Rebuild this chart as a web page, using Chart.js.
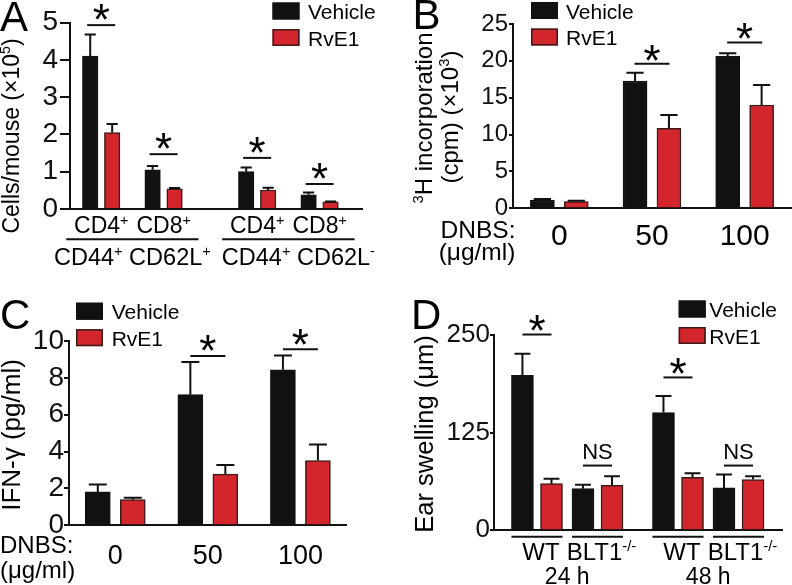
<!DOCTYPE html>
<html>
<head>
<meta charset="utf-8">
<script src="https://cdn.jsdelivr.net/npm/chart.js@4.4.1/dist/chart.umd.min.js"></script>
<style>
  html, body { margin: 0; padding: 0; background: #fff; }
  #wrap { position: relative; width: 792px; height: 585px; overflow: hidden; }
  canvas { position: absolute; left: 0; top: 0; }
</style>
</head>
<body>
<div id="wrap">
  <canvas id="panelA" width="792" height="585"></canvas>
  <canvas id="panelB" width="792" height="585"></canvas>
  <canvas id="panelC" width="792" height="585"></canvas>
  <canvas id="panelD" width="792" height="585"></canvas>
</div>
<script>
// ---- data ----
const seriesNames = ['Vehicle', 'RvE1'];
const doseCaption = ['DNBS:', '(μg/ml)'];

// A: memory T cells per mouse (x10^5)
const cellsA = ['CD4^{+}', 'CD8^{+}', 'CD4^{+}', 'CD8^{+}'];
const subsetsA = ['CD44^{+} CD62L^{+}', 'CD44^{+} CD62L^{-}'];
const vehicleA = [4.1, 1.05, 1.0, 0.38];
const vehicleErrA = [0.58, 0.10, 0.11, 0.06];
const rve1A = [2.05, 0.54, 0.51, 0.19];
const rve1ErrA = [0.23, 0.02, 0.06, 0.01];
const sigA = ['*', '*', '*', '*'];
const sigLevelA = [4.93, 1.47, 1.37, 0.67];
const ticksA = [0, 1, 2, 3, 4, 5];

// B: 3H incorporation (cpm x10^3)
const doseB = ['0', '50', '100'];
const vehicleB = [1.13, 17.27, 20.66];
const vehicleErrB = [0.14, 1.13, 0.36];
const rve1B = [0.90, 10.85, 14.01];
const rve1ErrB = [0.14, 1.81, 2.72];
const sigB = ['', '*', '*'];
const sigLevelB = [null, 19.6, 22.5];
const ticksB = [0, 5, 10, 15, 20, 25];

// C: IFN-gamma (pg/ml)
const doseC = ['0', '50', '100'];
const vehicleC = [1.81, 7.09, 8.44];
const vehicleErrC = [0.40, 1.77, 0.78];
const rve1C = [1.39, 2.78, 3.51];
const rve1ErrC = [0.11, 0.49, 0.88];
const sigC = ['', '*', '*'];
const sigLevelC = [null, 9.19, 9.55];
const ticksC = [0, 2, 4, 6, 8, 10];

// D: ear swelling (um)
const genotypeD = ['WT', 'BLT1^{-/-}', 'WT', 'BLT1^{-/-}'];
const timeD = ['24 h', '48 h'];
const vehicleD = [198.7, 53.4, 150.9, 54.3];
const vehicleErrD = [27.8, 5.1, 21.3, 17.1];
const rve1D = [59.8, 57.7, 67.9, 65.0];
const rve1ErrD = [6.4, 11.5, 5.2, 4.2];
const sigD = ['*', 'NS', '*', 'NS'];
const sigLevelD = [251, 83, 196, 83];
const ticksD = [0, 125, 250];

// ---- styling ----
const FAMILY = 'Arial, "Liberation Sans", Helvetica, sans-serif';
const NARROW = '"Liberation Sans Narrow", "Arial Narrow", ' + FAMILY;
const INK = '#111111';
const RED = '#d2262c';
const RED_EDGE = '#3a1a1a';
const W = 792, H = 585;

function font(size, fam) {
  return size + 'px ' + (fam || FAMILY);
}

// "CD4^{+}" -> plain text with superscript pieces
function richParts(str) {
  const parts = [];
  const re = /\^\{([^}]*)\}/g;
  let last = 0, m;
  while ((m = re.exec(str))) {
    if (m.index > last) parts.push({ t: str.slice(last, m.index), sup: false });
    parts.push({ t: m[1], sup: true });
    last = re.lastIndex;
  }
  if (last < str.length) parts.push({ t: str.slice(last), sup: false });
  return parts;
}

function drawRich(ctx, str, x, y, size, align) {
  const parts = richParts(str);
  const fonts = parts.map(p => font(p.sup ? size * 0.62 : size));
  const widths = parts.map((p, i) => { ctx.font = fonts[i]; return ctx.measureText(p.t).width; });
  const total = widths.reduce((a, b) => a + b, 0);
  let cx = align === 'center' ? x - total / 2 : (align === 'right' ? x - total : x);
  ctx.textAlign = 'left';
  ctx.textBaseline = 'alphabetic';
  parts.forEach((p, i) => {
    ctx.font = fonts[i];
    ctx.fillText(p.t, cx, p.sup ? y - size * 0.38 : y);
    cx += widths[i];
  });
}

function drawRotated(ctx, str, x, y, size) {
  ctx.save();
  ctx.translate(x, y);
  ctx.rotate(-Math.PI / 2);
  drawRich(ctx, str, 0, 0, size, 'center');
  ctx.restore();
}

function drawGlyphCentered(ctx, text, x, cy, size) {
  ctx.font = font(size);
  const m = ctx.measureText(text);
  ctx.textAlign = 'center';
  ctx.textBaseline = 'alphabetic';
  ctx.fillText(text, x, cy + (m.actualBoundingBoxAscent - m.actualBoundingBoxDescent) / 2);
}

function hline(ctx, x1, x2, y) {
  ctx.lineWidth = 2;
  ctx.strokeStyle = INK;
  ctx.beginPath();
  ctx.moveTo(x1, y);
  ctx.lineTo(x2, y);
  ctx.stroke();
}

function pos(p, i) {
  return i + (p.gapAfter != null && i >= p.gapAfter ? p.gap : 0);
}

// ---- panel layouts ----
const panels = [
  {
    id: 'panelA', letter: 'A', letterAt: [0, 31],
    area: { left: 70, top: 22.5, right: 362, bottom: 209 },
    xRange: [-0.5, 4.18], gapAfter: 2, gap: 0.5,
    barOffset: 0.176, barWidth: 15.5, sigHalf: 14, starGap: 13,
    ticks: ticksA, tickFont: 28, tickFamily: NARROW, tickLength: 10, tickPad: 2,
    vehicle: vehicleA, vehicleErr: vehicleErrA, rve1: rve1A, rve1Err: rve1ErrA,
    sig: sigA, sigLevel: sigLevelA,
    legend: { x: 272.5, y: 2.5, textX: 308 },
    titles: [{ text: 'Cells/mouse (×10^{5})', x: 19, y: 136, size: 23 }],
    labels(ctx, cx) {
      cellsA.forEach((c, i) => drawRich(ctx, c, cx(i), 233.3, 23, 'center'));
      const nudge = [0, 10];
      subsetsA.forEach((s, k) => {
        const a = cx(2 * k), b = cx(2 * k + 1);
        hline(ctx, a - 35, b + 35, 239.3);
        drawRich(ctx, s, (a + b) / 2 + nudge[k], 265, 23.5, 'center');
      });
    }
  },
  {
    id: 'panelB', letter: 'B', letterAt: [412.5, 29],
    area: { left: 513, top: 24, right: 791, bottom: 208.3 },
    xRange: [-0.5, 2.5],
    barOffset: 0.183, barWidth: 24, sigHalf: 17.5, starGap: 11,
    ticks: ticksB, tickFont: 24, tickLength: 4, tickPad: 1,
    vehicle: vehicleB, vehicleErr: vehicleErrB, rve1: rve1B, rve1Err: rve1ErrB,
    sig: sigB, sigLevel: sigLevelB,
    legend: { x: 531, y: 2, textX: 566 },
    titles: [
      { text: '^{3}H incorporation', x: 432, y: 118, size: 24 },
      { text: '(cpm) (×10^{3})', x: 458, y: 117, size: 24 }
    ],
    labels(ctx, cx) {
      doseB.forEach((d, i) => drawRich(ctx, d, cx(i), 245, 30, 'center'));
      drawRich(ctx, doseCaption[0], 478, 238.3, 24.5, 'center');
      drawRich(ctx, doseCaption[1], 477, 260, 24.5, 'center');
    }
  },
  {
    id: 'panelC', letter: 'C', letterAt: [0, 329],
    area: { left: 69, top: 341, right: 346.7, bottom: 525.3 },
    xRange: [-0.5, 2.5],
    barOffset: 0.189, barWidth: 25, sigHalf: 17.5, starGap: 12.5,
    ticks: ticksC, tickFont: 28, tickLength: 5, tickPad: 0,
    vehicle: vehicleC, vehicleErr: vehicleErrC, rve1: rve1C, rve1Err: rve1ErrC,
    sig: sigC, sigLevel: sigLevelC,
    legend: { x: 76, y: 302.7, textX: 111.7 },
    titles: [{ text: 'IFN-γ (pg/ml)', x: 20, y: 435, size: 26 }],
    labels(ctx, cx) {
      doseC.forEach((d, i) => drawRich(ctx, d, cx(i), 563.7, 27, 'center'));
      drawRich(ctx, doseCaption[0], 0, 553.3, 24, 'left');
      drawRich(ctx, doseCaption[1], 0, 577.5, 24, 'left');
    }
  },
  {
    id: 'panelD', letter: 'D', letterAt: [411, 328.7],
    area: { left: 494, top: 335.3, right: 782.7, bottom: 530.3 },
    xRange: [-0.71, 4.06], gapAfter: 2, gap: 0.33,
    barOffset: 0.24, barWidth: 22, sigHalf: 14.5, starGap: 11.6,
    ticks: ticksD, tickFont: 26, tickLength: 4, tickPad: 0,
    vehicle: vehicleD, vehicleErr: vehicleErrD, rve1: rve1D, rve1Err: rve1ErrD,
    sig: sigD, sigLevel: sigLevelD,
    legend: { x: 678.7, y: 300.5, textX: 709.3 },
    titles: [{ text: 'Ear swelling (μm)', x: 432.5, y: 434, size: 25.5 }],
    labels(ctx, cx, half) {
      genotypeD.forEach((g, i) => {
        hline(ctx, cx(i) - half, cx(i) + half, 536.7);
        drawRich(ctx, g, cx(i) + 4, 560, 24, 'center');
      });
      timeD.forEach((t, k) => drawRich(ctx, t, (cx(2 * k) + cx(2 * k + 1)) / 2, 584, 23, 'center'));
    }
  }
];

// ---- plugin: error bars, significance marks, legend, texts ----
const decor = {
  id: 'decor',
  afterDatasetsDraw(chart, args, opts) {
    const p = opts.panel;
    const ctx = chart.ctx;
    const xs = chart.scales.x, ys = chart.scales.y;
    ctx.save();

    // upper error whiskers
    [[p.vehicle, p.vehicleErr], [p.rve1, p.rve1Err]].forEach(([vals, errs], d) => {
      chart.getDatasetMeta(d).data.forEach((bar, i) => {
        const top = ys.getPixelForValue(vals[i] + errs[i]);
        const cap = bar.width * 0.36;
        ctx.lineWidth = 2;
        ctx.strokeStyle = INK;
        ctx.beginPath();
        ctx.moveTo(bar.x, bar.y);
        ctx.lineTo(bar.x, top);
        ctx.moveTo(bar.x - cap, top);
        ctx.lineTo(bar.x + cap, top);
        ctx.stroke();
      });
    });

    // significance bars
    ctx.fillStyle = '#000';
    p.sig.forEach((s, i) => {
      if (!s) return;
      const cx = xs.getPixelForValue(pos(p, i));
      const y = ys.getPixelForValue(p.sigLevel[i]);
      hline(ctx, cx - p.sigHalf, cx + p.sigHalf, y);
      if (s === '*') {
        drawGlyphCentered(ctx, '*', cx, y - p.starGap, 44);
      } else {
        ctx.font = font(22);
        ctx.textAlign = 'center';
        ctx.textBaseline = 'alphabetic';
        ctx.fillText(s, cx, y - 6.6);
      }
    });

    // legend
    chart.data.datasets.forEach((ds, k) => {
      const top = p.legend.y + k * 26.5;
      ctx.fillStyle = ds.backgroundColor;
      ctx.fillRect(p.legend.x, top, 27, 17);
      ctx.strokeStyle = ds.borderColor;
      ctx.lineWidth = 1.5;
      ctx.strokeRect(p.legend.x + 0.75, top + 0.75, 25.5, 15.5);
      ctx.fillStyle = '#000';
      ctx.font = font(21);
      ctx.textAlign = 'left';
      ctx.textBaseline = 'alphabetic';
      ctx.fillText(ds.label, p.legend.textX, top + 16.5);
    });

    // panel letter, axis titles, category labels
    ctx.fillStyle = '#000';
    ctx.font = font(42);
    ctx.textAlign = 'left';
    ctx.textBaseline = 'alphabetic';
    ctx.fillText(p.letter, p.letterAt[0], p.letterAt[1]);
    p.titles.forEach(t => drawRotated(ctx, t.text, t.x, t.y, t.size));
    const cx = i => xs.getPixelForValue(pos(p, i));
    const half = xs.getPixelForValue(p.barOffset) - xs.getPixelForValue(0) + p.barWidth / 2;
    ctx.fillStyle = '#000';
    p.labels(ctx, cx, half);

    ctx.restore();
  }
};

panels.forEach(p => {
  const canvas = document.getElementById(p.id);
  new Chart(canvas.getContext('2d'), {
    type: 'bar',
    data: {
      datasets: [
        {
          label: seriesNames[0],
          data: p.vehicle.map((v, i) => ({ x: pos(p, i) - p.barOffset, y: v })),
          backgroundColor: INK,
          borderColor: INK,
          borderWidth: 1.5,
          barThickness: p.barWidth,
          grouped: false
        },
        {
          label: seriesNames[1],
          data: p.rve1.map((v, i) => ({ x: pos(p, i) + p.barOffset, y: v })),
          backgroundColor: RED,
          borderColor: RED_EDGE,
          borderWidth: 1.5,
          barThickness: p.barWidth,
          grouped: false
        }
      ]
    },
    options: {
      responsive: false,
      animation: false,
      events: [],
      layout: {
        padding: { left: 0, top: p.area.top, right: W - p.area.right, bottom: H - p.area.bottom }
      },
      plugins: {
        legend: { display: false },
        tooltip: { enabled: false },
        decor: { panel: p }
      },
      scales: {
        x: {
          type: 'linear',
          min: p.xRange[0],
          max: p.xRange[1],
          offset: false,
          grid: { display: false },
          ticks: { display: false },
          border: { display: true, color: INK, width: 2 },
          afterFit: s => { s.height = 0; }
        },
        y: {
          type: 'linear',
          min: 0,
          max: p.ticks[p.ticks.length - 1],
          afterBuildTicks: s => { s.ticks = p.ticks.map(v => ({ value: v })); },
          ticks: {
            color: INK,
            padding: p.tickPad,
            autoSkip: false,
            font: { size: p.tickFont, family: p.tickFamily || FAMILY }
          },
          grid: {
            display: true,
            drawOnChartArea: false,
            drawTicks: true,
            tickLength: p.tickLength,
            color: INK,
            lineWidth: 2
          },
          border: { display: true, color: INK, width: 2 },
          afterFit: s => { s.width = p.area.left; }
        }
      }
    },
    plugins: [decor]
  });
});
</script>
</body>
</html>
